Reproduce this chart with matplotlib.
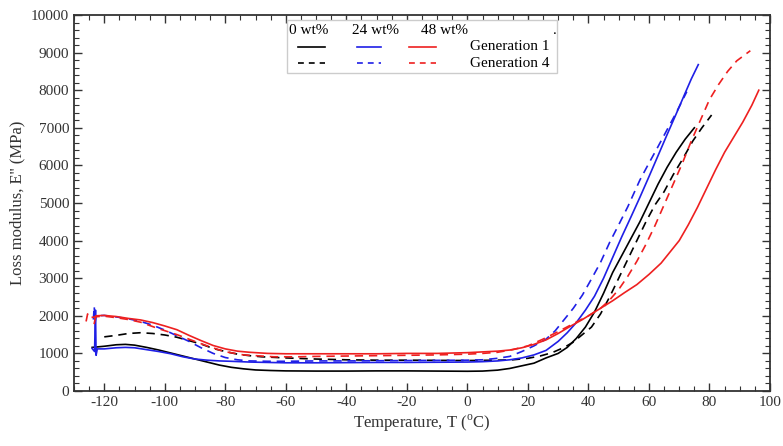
import matplotlib
matplotlib.use('Agg')
import matplotlib.pyplot as plt
from matplotlib.lines import Line2D
from matplotlib.patches import Rectangle
from matplotlib.ticker import MultipleLocator

plt.rcParams['font.family'] = ['Liberation Serif', 'DejaVu Serif']
plt.rcParams['mathtext.fontset'] = 'custom'
plt.rcParams['mathtext.rm'] = 'Liberation Serif'
plt.rcParams['axes.unicode_minus'] = False

# 0 wt%, generation 1
t_0g1 = [-124, -120, -116, -113, -110, -106, -102, -98, -94, -90, -86, -82, -78, -74, -70, -65, -60,
         -50, -40, -30, -20, -10, 0, 5, 10, 14, 18, 22, 26, 30, 33, 36, 39, 42, 45, 48, 51, 54, 57,
         60, 63, 66, 69, 72, 75]
e_0g1 = [1160, 1190, 1230, 1240, 1220, 1160, 1090, 1010, 930, 850, 770, 690, 630, 590, 560, 545, 535,
         530, 530, 535, 535, 530, 525, 530, 555, 600, 670, 740, 880, 1000, 1160, 1400, 1700, 2100,
         2600, 3150, 3600, 4050, 4500, 5000, 5500, 5950, 6350, 6700, 7000]

# 0 wt%, generation 4
t_0g4 = [-120, -116, -112, -108, -104, -100, -96, -92, -88, -84, -80, -76, -72, -68, -60, -50, -40,
         -30, -20, -10, 0, 10, 15, 20, 24, 28, 32, 35, 38, 41, 44, 47, 50, 53, 56, 59, 62, 65, 68,
         71, 74.5, 77.5, 80.7]
e_0g4 = [1440, 1480, 1530, 1550, 1530, 1490, 1430, 1340, 1250, 1130, 1050, 980, 940, 910, 880, 850,
         830, 820, 820, 815, 810, 820, 830, 870, 930, 1020, 1160, 1300, 1500, 1700, 2050, 2500, 3000,
         3500, 4000, 4500, 4950, 5300, 5750, 6150, 6650, 7000, 7340]

# 24 wt%, generation 1
t_24g1 = [-124, -123.2, -122.9, -122.7, -122.3, -120, -116, -113, -110, -106, -102, -98, -94, -90,
          -86, -82, -78, -72, -66, -60, -50, -40, -30, -20, -10, 0, 5, 10, 14, 18, 22, 26, 28, 30,
          33, 36, 39, 42, 45, 48, 51, 54, 57, 60, 63, 66, 69, 72, 74, 76.3]
e_24g1 = [1130, 1050, 2150, 950, 1120, 1120, 1150, 1160, 1150, 1100, 1050, 990, 910, 850, 820, 800,
          790, 770, 760, 750, 750, 755, 760, 760, 765, 770, 780, 800, 830, 880, 960, 1080, 1200,
          1320, 1550, 1820, 2150, 2520, 3000, 3550, 4100, 4620, 5150, 5700, 6260, 6820, 7370, 7930,
          8300, 8680]

# 24 wt%, generation 4
t_24g4 = [-123.6, -123.3, -123.1, -122.7, -120, -116, -112, -108, -104, -100, -96, -92, -88, -84,
          -80, -76, -72, -66, -60, -50, -40, -30, -20, -10, 0, 5, 10, 14, 18, 22, 26, 29, 32, 35,
          38, 41, 44, 47, 50, 53, 57, 60, 63, 66, 69, 72.5]
e_24g4 = [1900, 2250, 1800, 2000, 2010, 1970, 1920, 1850, 1750, 1620, 1470, 1320, 1150, 1000, 890,
          830, 800, 790, 790, 800, 800, 805, 810, 815, 820, 830, 870, 920, 1050, 1200, 1380, 1600,
          1900, 2200, 2550, 2980, 3420, 3950, 4420, 4900, 5610, 6060, 6500, 6950, 7400, 7960]

# 48 wt%, generation 1
t_48g1 = [-123.3, -122.8, -120, -116, -112, -108, -104, -100, -96, -92, -88, -84, -80, -76, -72,
          -66, -60, -50, -40, -30, -20, -10, 0, 5, 10, 14, 18, 22, 26, 30, 34, 38, 40, 44, 48, 52,
          56, 60, 64, 67, 70, 73, 76, 79, 82, 85, 88, 91, 94, 96.3]
e_48g1 = [1800, 2000, 2010, 1980, 1930, 1890, 1820, 1730, 1630, 1480, 1340, 1210, 1120, 1060, 1030,
          1000, 990, 990, 990, 990, 1000, 1000, 1020, 1040, 1060, 1090, 1150, 1240, 1360, 1530,
          1720, 1900, 2000, 2200, 2400, 2620, 2830, 3100, 3400, 3700, 4000, 4420, 4880, 5380, 5880,
          6350, 6750, 7150, 7600, 8000]

# 48 wt%, generation 4
t_48g4 = [-126, -125.5, -125, -122, -120, -116, -112, -108, -102.5, -96, -91.4, -86, -80.4, -74,
          -68, -64, -56, -50, -40, -30, -20, -10, 0, 5, 10, 15, 20, 25, 30, 35, 40, 44, 47, 50, 53,
          56, 59, 62, 65, 68, 71, 74, 77, 80, 83, 86, 89, 91.5, 93.5]
e_48g4 = [1850, 2050, 1950, 1980, 1990, 1950, 1900, 1830, 1670, 1500, 1360, 1200, 1050, 960, 930,
          910, 910, 920, 930, 940, 950, 960, 980, 1000, 1030, 1100, 1200, 1380, 1580, 1790, 2000,
          2200, 2420, 2700, 3050, 3450, 3900, 4400, 4950, 5500, 6050, 6650, 7200, 7750, 8150, 8500,
          8780, 8930, 9050]

black = '#000000'
blue = '#1f1fe6'
red = '#ee2020'
dash = (0, (5, 3.5))
lw = 1.2

fig = plt.figure(figsize=(7.83, 4.46), dpi=100)
ax = fig.add_axes([0.0945, 0.1233, 0.8889, 0.8431])

ax.plot(t_0g1, e_0g1, color=black, lw=lw)
ax.plot(t_0g4, e_0g4, color=black, lw=lw, linestyle=dash)
ax.plot(t_24g1, e_24g1, color=blue, lw=lw)
ax.plot(t_24g4, e_24g4, color=blue, lw=lw, linestyle=dash)
ax.plot(t_48g1, e_48g1, color=red, lw=lw)
ax.plot(t_48g4, e_48g4, color=red, lw=lw, linestyle=dash)

ax.set_xlim(-130, 100)
ax.set_ylim(0, 10000)
ax.xaxis.set_major_locator(MultipleLocator(20))
ax.xaxis.set_minor_locator(MultipleLocator(5))
ax.yaxis.set_major_locator(MultipleLocator(1000))
ax.yaxis.set_minor_locator(MultipleLocator(200))
ax.set_xticks(range(-120, 101, 20))
ax.tick_params(which='both', direction='in', top=True, right=True, labelsize=11, colors='#333333')
ax.tick_params(which='major', length=6, width=1)
ax.tick_params(which='minor', length=3.5, width=0.8)
for s in ax.spines.values():
    s.set_linewidth(1.3)
    s.set_color('#333333')

ax.set_xlabel(r'Temperature, T ($^{\mathrm{o}}$C)', fontsize=12, color='#333333', labelpad=3)
ax.set_ylabel("Loss modulus, E'' (MPa)", fontsize=12, color='#333333', labelpad=4)

# legend built by hand: header row of loadings, then generation rows
ax.add_patch(Rectangle((0.306, 0.846), 0.388, 0.141, transform=ax.transAxes,
                       facecolor='white', edgecolor='#cccccc', lw=1, zorder=5))
hdr_y, r1_y, r2_y = 0.958, 0.915, 0.872
for xt, txt in [(0.309, '0 wt%'), (0.399, '24 wt%'), (0.499, '48 wt%'), (0.688, '.')]:
    ax.text(xt, hdr_y, txt, transform=ax.transAxes, fontsize=11, va='center', ha='left', zorder=6)
for (x0, x1), c in zip([(0.322, 0.361), (0.407, 0.441), (0.481, 0.520)], [black, blue, red]):
    ax.add_line(Line2D([x0, x1], [r1_y, r1_y], transform=ax.transAxes, color=c, lw=lw, zorder=6))
    ax.add_line(Line2D([x0, x1], [r2_y, r2_y], transform=ax.transAxes, color=c, lw=lw,
                       linestyle=(0, (3.5, 3)), zorder=6))
ax.text(0.569, r1_y, 'Generation 1', transform=ax.transAxes, fontsize=11, va='center', zorder=6)
ax.text(0.569, r2_y, 'Generation 4', transform=ax.transAxes, fontsize=11, va='center', zorder=6)

fig.savefig('out.png', dpi=100)
